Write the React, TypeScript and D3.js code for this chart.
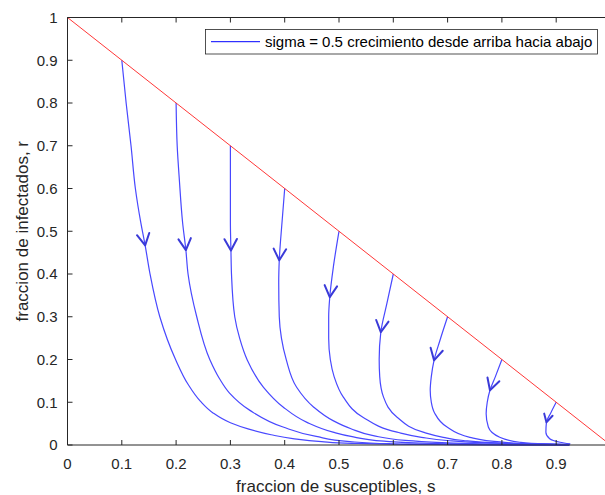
import React, { useEffect, useRef } from "react";
import * as d3 from "d3";

const width = 605;
const height = 495;

const xTicks = [0, 0.1, 0.2, 0.3, 0.4, 0.5, 0.6, 0.7, 0.8, 0.9];
const xTickLabels = ["0", "0.1", "0.2", "0.3", "0.4", "0.5", "0.6", "0.7", "0.8", "0.9"];
const yTicks = [0, 0.1, 0.2, 0.3, 0.4, 0.5, 0.6, 0.7, 0.8, 0.9, 1];
const yTickLabels = ["0", "0.1", "0.2", "0.3", "0.4", "0.5", "0.6", "0.7", "0.8", "0.9", "1"];

// trajectories (s, r), top to bottom
const curve01: [number, number][] = [
  [0.100, 0.900], [0.108, 0.800], [0.117, 0.700], [0.125, 0.600], [0.135, 0.520], [0.143, 0.467],
  [0.152, 0.400], [0.170, 0.300], [0.199, 0.200], [0.222, 0.142], [0.245, 0.102], [0.268, 0.075],
  [0.300, 0.052], [0.334, 0.037], [0.375, 0.024], [0.415, 0.015], [0.468, 0.008], [0.524, 0.004],
  [0.613, 0.0018], [0.741, 0.0007], [0.924, 0.0002],
];
const curve02: [number, number][] = [
  [0.200, 0.800], [0.202, 0.700], [0.206, 0.620], [0.212, 0.520], [0.218, 0.456], [0.222, 0.400],
  [0.238, 0.300], [0.262, 0.200], [0.280, 0.155], [0.298, 0.122], [0.336, 0.081], [0.397, 0.042],
  [0.458, 0.020], [0.520, 0.008], [0.593, 0.003], [0.692, 0.0012], [0.790, 0.0005], [0.924, 0.0002],
];
const curve03: [number, number][] = [
  [0.300, 0.700], [0.300, 0.600], [0.300, 0.520], [0.301, 0.455], [0.302, 0.400], [0.308, 0.300],
  [0.317, 0.250], [0.331, 0.199], [0.361, 0.135], [0.397, 0.089], [0.441, 0.053], [0.489, 0.030],
  [0.522, 0.020], [0.583, 0.009], [0.672, 0.0035], [0.790, 0.0012], [0.924, 0.0003],
];
const curve04: [number, number][] = [
  [0.400, 0.600], [0.395, 0.520], [0.390, 0.432], [0.389, 0.380], [0.390, 0.300], [0.394, 0.250],
  [0.403, 0.199], [0.422, 0.135], [0.453, 0.089], [0.489, 0.057], [0.522, 0.038], [0.563, 0.022],
  [0.622, 0.011], [0.711, 0.0045], [0.810, 0.0017], [0.924, 0.0005],
];
const curve05: [number, number][] = [
  [0.500, 0.500], [0.490, 0.420], [0.483, 0.346], [0.481, 0.300], [0.481, 0.250], [0.484, 0.200],
  [0.491, 0.160], [0.508, 0.112], [0.544, 0.065], [0.607, 0.030], [0.652, 0.018], [0.699, 0.0105],
  [0.771, 0.005], [0.850, 0.002], [0.924, 0.0008],
];
const curve06: [number, number][] = [
  [0.600, 0.400], [0.588, 0.330], [0.577, 0.264], [0.574, 0.200], [0.575, 0.160], [0.582, 0.112],
  [0.607, 0.065], [0.655, 0.030], [0.692, 0.018], [0.729, 0.0105], [0.790, 0.005], [0.860, 0.002],
  [0.924, 0.0008],
];
const curve07: [number, number][] = [
  [0.700, 0.300], [0.686, 0.245], [0.675, 0.198], [0.670, 0.160], [0.668, 0.128], [0.670, 0.100],
  [0.676, 0.075], [0.699, 0.042], [0.741, 0.018], [0.802, 0.0065], [0.860, 0.0025], [0.924, 0.0008],
];
const curve08: [number, number][] = [
  [0.800, 0.200], [0.788, 0.160], [0.778, 0.128], [0.773, 0.100], [0.771, 0.073], [0.775, 0.042],
  [0.796, 0.018], [0.833, 0.0065], [0.880, 0.0025], [0.924, 0.001],
];
const curve09: [number, number][] = [
  [0.900, 0.100], [0.890, 0.075], [0.882, 0.053], [0.881, 0.030], [0.888, 0.0145], [0.907, 0.0065],
  [0.926, 0.0025],
];
const curves = [curve01, curve02, curve03, curve04, curve05, curve06, curve07, curve08, curve09];

// where the arrow heads sit on each curve
const arrowS = [0.143, 0.218, 0.301, 0.390, 0.483, 0.577, 0.675, 0.778, 0.882];
const arrowR = [0.467, 0.456, 0.455, 0.432, 0.346, 0.264, 0.198, 0.128, 0.053];

const diagonal: [number, number][] = [[0, 1], [1, 0]];

const legendText = "sigma = 0.5 crecimiento desde arriba hacia abajo";

function App() {
  const svgRef = useRef<SVGSVGElement>(null);

  useEffect(() => {
    const svg = d3.select(svgRef.current);
    svg.selectAll("*").remove();

    const left = 67.5, right = 610.5, top = 17.5, bottom = 445;
    const x = d3.scaleLinear().domain([0, 1]).range([left, right]);
    const y = d3.scaleLinear().domain([0, 1]).range([bottom, top]);
    const font = "'Liberation Sans', Arial, sans-serif";
    const axisColor = "#262626";

    const myLine = d3.line<[number, number]>()
      .x(d => x(d[0]))
      .y(d => y(d[1]))
      .curve(d3.curveMonotoneY);

    // blue trajectories
    svg.append("g")
      .selectAll("path")
      .data(curves)
      .join("path")
      .attr("d", d => myLine(d))
      .attr("fill", "none")
      .attr("stroke", "#4848ff")
      .attr("stroke-width", 1.2);

    // arrow heads
    const ag = svg.append("g");
    curves.forEach((c, k) => {
      const tipX = x(arrowS[k]);
      const tipY = y(arrowR[k]);
      let best = 0;
      c.forEach((p, i) => {
        if (Math.abs(p[1] - arrowR[k]) < Math.abs(c[best][1] - arrowR[k])) best = i;
      });
      const a = c[Math.max(0, best - 1)];
      const b = c[Math.min(c.length - 1, best + 1)];
      let dx = x(b[0]) - x(a[0]);
      let dy = y(b[1]) - y(a[1]);
      const len = Math.hypot(dx, dy);
      dx /= len; dy /= len;
      const size = k === 8 ? 9 : 13;
      const ang = 0.5;
      const wing = (sgn: number) => {
        const cs = Math.cos(sgn * ang), sn = Math.sin(sgn * ang);
        const bx = -dx, by = -dy;
        return [tipX + size * (bx * cs - by * sn), tipY + size * (bx * sn + by * cs)];
      };
      const w1 = wing(1), w2 = wing(-1);
      ag.append("path")
        .attr("d", `M${w1[0]},${w1[1]}L${tipX},${tipY}L${w2[0]},${w2[1]}`)
        .attr("fill", "none")
        .attr("stroke", "#3a3ad8")
        .attr("stroke-width", 2)
        .attr("stroke-linejoin", "round")
        .attr("stroke-linecap", "round");
    });

    // red diagonal s + r = 1
    const straight = d3.line<[number, number]>().x(d => x(d[0])).y(d => y(d[1]));
    svg.append("path")
      .attr("d", straight(diagonal))
      .attr("fill", "none")
      .attr("stroke", "#ff2020")
      .attr("stroke-width", 0.9);

    // axes box (right side falls outside the window)
    const ax = svg.append("g").attr("stroke", axisColor).attr("stroke-width", 1).attr("fill", "none");
    ax.append("line").attr("x1", left).attr("x2", right).attr("y1", bottom).attr("y2", bottom);
    ax.append("line").attr("x1", left).attr("x2", right).attr("y1", top).attr("y2", top);
    ax.append("line").attr("x1", left).attr("x2", left).attr("y1", top).attr("y2", bottom);
    ax.append("line").attr("x1", right).attr("x2", right).attr("y1", top).attr("y2", bottom);

    xTicks.forEach(t => {
      ax.append("line").attr("x1", x(t)).attr("x2", x(t)).attr("y1", bottom).attr("y2", bottom - 5);
      ax.append("line").attr("x1", x(t)).attr("x2", x(t)).attr("y1", top).attr("y2", top + 5);
    });
    yTicks.forEach(t => {
      ax.append("line").attr("x1", left).attr("x2", left + 5).attr("y1", y(t)).attr("y2", y(t));
      ax.append("line").attr("x1", right).attr("x2", right - 5).attr("y1", y(t)).attr("y2", y(t));
    });

    svg.append("g")
      .selectAll("text")
      .data(xTicks)
      .join("text")
      .attr("x", d => x(d))
      .attr("y", bottom + 19)
      .attr("dy", "0.35em")
      .attr("text-anchor", "middle")
      .attr("font-family", font)
      .attr("font-size", 15)
      .attr("fill", axisColor)
      .text((d, i) => xTickLabels[i]);

    svg.append("g")
      .selectAll("text")
      .data(yTicks)
      .join("text")
      .attr("x", left - 10)
      .attr("y", d => y(d))
      .attr("dy", "0.35em")
      .attr("text-anchor", "end")
      .attr("font-family", font)
      .attr("font-size", 15)
      .attr("fill", axisColor)
      .text((d, i) => yTickLabels[i]);

    svg.append("text")
      .attr("x", (left + 604) / 2)
      .attr("y", 486)
      .attr("dy", "0.35em")
      .attr("text-anchor", "middle")
      .attr("font-family", font)
      .attr("font-size", 17)
      .attr("fill", axisColor)
      .text("fraccion de susceptibles, s");

    svg.append("text")
      .attr("transform", `translate(22, ${(top + bottom) / 2}) rotate(-90)`)
      .attr("dy", "0.35em")
      .attr("text-anchor", "middle")
      .attr("font-family", font)
      .attr("font-size", 17)
      .attr("fill", axisColor)
      .text("fraccion de infectados, r");

    // legend
    const lg = svg.append("g");
    lg.append("rect")
      .attr("x", 205.5).attr("y", 29.5).attr("width", 392).attr("height", 24.5)
      .attr("fill", "#fff").attr("stroke", axisColor).attr("stroke-width", 0.8);
    lg.append("line")
      .attr("x1", 211).attr("x2", 260).attr("y1", 41.7).attr("y2", 41.7)
      .attr("stroke", "#0000ff").attr("stroke-width", 1);
    lg.append("text")
      .attr("x", 265).attr("y", 41.7).attr("dy", "0.35em")
      .attr("font-family", font).attr("font-size", 15).attr("fill", "#000")
      .text(legendText);
  }, []);

  return (
    <svg ref={svgRef} width={width} height={height}
      style={{ position: "absolute", left: 0, top: 0, background: "#fff" }} />
  );
}

export default App;
